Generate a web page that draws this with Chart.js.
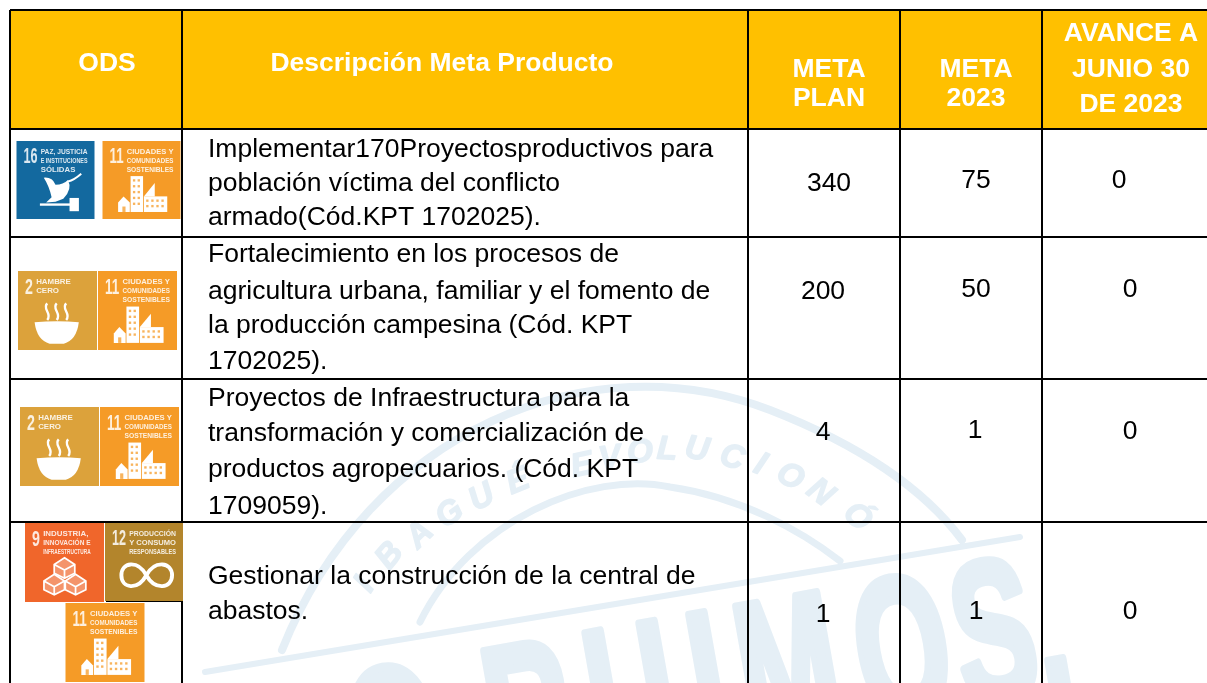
<!DOCTYPE html>
<html lang="es">
<head>
<meta charset="utf-8">
<title>Metas producto ODS</title>
<script src="https://cdn.jsdelivr.net/npm/chart.js@4"></script>
<style>
  html, body { margin: 0; padding: 0; background: #fff; overflow: hidden; }
  canvas { display: block; }
</style>
</head>
<body>
<canvas id="tableChart" width="1207" height="683"></canvas>
<script>
// table content
const headers = [['ODS'], ['Descripción Meta Producto'], ['META', 'PLAN'], ['META', '2023'], ['AVANCE A', 'JUNIO 30', 'DE 2023']];
const odsGoals = [[16, 11], [2, 11], [2, 11], [9, 12, 11]];
const descriptions = [
  ['Implementar170Proyectosproductivos para', 'población víctima del conflicto', 'armado(Cód.KPT 1702025).'],
  ['Fortalecimiento en los procesos de', 'agricultura urbana, familiar y el fomento de', 'la producción campesina (Cód. KPT', '1702025).'],
  ['Proyectos de Infraestructura para la', 'transformación y comercialización de', 'productos agropecuarios. (Cód. KPT', '1709059).'],
  ['Gestionar la construcción de la central de', 'abastos.']
];
const metaPlan = [340, 200, 4, 1];
const meta2023 = [75, 50, 1, 1];
const avance = [0, 0, 0, 0];

// layout, in canvas pixels (the scales below map 1:1)
const colEdges = [10, 182, 748, 900, 1042];
const rowEdges = [10, 129, 237, 379, 522];
const headerX = [107, 442, 829, 976, 1131];
const headerY = [[62], [62], [68, 97], [68, 97], [32, 68, 103]];
const descX = 208;
const descY = [[148, 182, 216], [253, 290, 324, 360], [397, 432, 468, 505], [575, 610]];
const planX = [829, 823, 823, 823], planY = [182, 290, 431, 613];
const yearX = [976, 976, 975, 976], yearY = [179, 288, 429, 610];
const avanceX = [1119, 1130, 1130, 1130], avanceY = [179, 288, 430, 610];
const tilePos = [
  [[16.5, 141, 78], [102.5, 141, 78]],
  [[18, 271, 79], [98, 271, 79]],
  [[20, 407, 79], [100, 407, 79]],
  [[25, 523, 79], [105, 523, 78], [65.5, 603, 79]]
];

const FONT = '"Liberation Sans", Arial, sans-serif';
const WATER = '#e5eff6';
const TEXT_NUDGE = 2;

const tileInfo = {
  16: { color: '#13699f', lines: ['PAZ, JUSTICIA', 'E INSTITUCIONES', 'SÓLIDAS'] },
  11: { color: '#f59b27', lines: ['CIUDADES Y', 'COMUNIDADES', 'SOSTENIBLES'] },
  2: { color: '#dca23b', lines: ['HAMBRE', 'CERO'] },
  9: { color: '#f0662b', lines: ['INDUSTRIA,', 'INNOVACIÓN E', 'INFRAESTRUCTURA'] },
  12: { color: '#b3852c', lines: ['PRODUCCIÓN', 'Y CONSUMO', 'RESPONSABLES'] }
};

function drawBuildings(ctx) {
  ctx.fillStyle = '#fff';
  ctx.fillRect(0.36, 0.45, 0.16, 0.46);
  ctx.fillRect(0.53, 0.71, 0.3, 0.2);
  ctx.beginPath(); ctx.moveTo(0.53, 0.71); ctx.lineTo(0.67, 0.54); ctx.lineTo(0.67, 0.71); ctx.fill();
  ctx.beginPath(); ctx.moveTo(0.2, 0.79); ctx.lineTo(0.27, 0.71); ctx.lineTo(0.35, 0.79); ctx.lineTo(0.35, 0.91); ctx.lineTo(0.2, 0.91); ctx.fill();
  ctx.fillStyle = 'rgba(245,155,39,0.75)';
  for (let r = 0; r < 5; r++) {
    for (let c = 0; c < 2; c++) ctx.fillRect(0.39 + c * 0.06, 0.49 + r * 0.075, 0.03, 0.03);
  }
  for (let r = 0; r < 2; r++) {
    for (let c = 0; c < 4; c++) ctx.fillRect(0.56 + c * 0.065, 0.75 + r * 0.07, 0.03, 0.03);
  }
  ctx.fillRect(0.255, 0.84, 0.04, 0.07);
}

function drawBowl(ctx) {
  ctx.fillStyle = '#fff';
  ctx.beginPath();
  ctx.moveTo(0.21, 0.65);
  ctx.quadraticCurveTo(0.5, 0.62, 0.77, 0.65);
  ctx.quadraticCurveTo(0.74, 0.88, 0.58, 0.92);
  ctx.lineTo(0.4, 0.92);
  ctx.quadraticCurveTo(0.24, 0.88, 0.21, 0.65);
  ctx.fill();
  ctx.strokeStyle = '#fff';
  ctx.lineWidth = 0.03;
  [0.37, 0.49, 0.61].forEach(x => {
    ctx.beginPath();
    ctx.moveTo(x, 0.41);
    ctx.bezierCurveTo(x - 0.07, 0.48, x + 0.07, 0.54, x, 0.62);
    ctx.stroke();
  });
}

function drawDove(ctx) {
  ctx.fillStyle = '#fff';
  ctx.beginPath();
  ctx.moveTo(0.35, 0.47);
  ctx.quadraticCurveTo(0.46, 0.46, 0.5, 0.56);
  ctx.quadraticCurveTo(0.6, 0.56, 0.66, 0.5);
  ctx.quadraticCurveTo(0.72, 0.62, 0.6, 0.74);
  ctx.lineTo(0.5, 0.78);
  ctx.lineTo(0.38, 0.79);
  ctx.lineTo(0.45, 0.72);
  ctx.quadraticCurveTo(0.42, 0.58, 0.35, 0.47);
  ctx.fill();
  ctx.fillRect(0.3, 0.8, 0.4, 0.03);
  ctx.fillRect(0.68, 0.73, 0.12, 0.17);
  ctx.strokeStyle = '#fff';
  ctx.lineWidth = 0.025;
  ctx.beginPath(); ctx.moveTo(0.66, 0.52); ctx.quadraticCurveTo(0.74, 0.5, 0.83, 0.42); ctx.stroke();
}

function drawCubes(ctx) {
  ctx.strokeStyle = '#fff';
  ctx.fillStyle = 'rgba(255,255,255,0.3)';
  ctx.lineWidth = 0.022;
  [[0.5, 0.57], [0.37, 0.78], [0.64, 0.78]].forEach(([x, y]) => {
    const w = 0.13;
    ctx.beginPath();
    ctx.moveTo(x, y - w);
    ctx.lineTo(x + w, y - w * 0.35);
    ctx.lineTo(x + w, y + w * 0.5);
    ctx.lineTo(x, y + w);
    ctx.lineTo(x - w, y + w * 0.5);
    ctx.lineTo(x - w, y - w * 0.35);
    ctx.closePath();
    ctx.fill();
    ctx.moveTo(x - w, y - w * 0.35);
    ctx.lineTo(x, y + w * 0.2);
    ctx.lineTo(x + w, y - w * 0.35);
    ctx.moveTo(x, y + w * 0.2);
    ctx.lineTo(x, y + w);
    ctx.stroke();
  });
}

function drawInfinity(ctx) {
  ctx.strokeStyle = '#fff';
  ctx.lineWidth = 0.05;
  ctx.beginPath();
  ctx.moveTo(0.53, 0.67);
  ctx.bezierCurveTo(0.42, 0.47, 0.21, 0.5, 0.21, 0.67);
  ctx.bezierCurveTo(0.21, 0.84, 0.42, 0.87, 0.53, 0.67);
  ctx.bezierCurveTo(0.64, 0.47, 0.86, 0.5, 0.86, 0.67);
  ctx.bezierCurveTo(0.86, 0.84, 0.64, 0.87, 0.53, 0.67);
  ctx.stroke();
}

const tileGlyph = { 16: drawDove, 11: drawBuildings, 2: drawBowl, 9: drawCubes, 12: drawInfinity };

function drawTile(ctx, goal, x, y, size) {
  const info = tileInfo[goal];
  ctx.save();
  ctx.fillStyle = info.color;
  ctx.fillRect(x, y, size, size);
  ctx.filter = 'blur(0.6px)';
  ctx.fillStyle = 'rgba(255,255,255,0.85)';
  ctx.textBaseline = 'top';
  ctx.textAlign = 'left';
  const numWidth = String(goal).length > 1 ? 0.18 : 0.1;
  ctx.font = 'bold ' + size * 0.28 + 'px ' + FONT;
  ctx.fillText(goal, x + size * 0.09, y + size * 0.07, size * numWidth);
  ctx.font = 'bold ' + size * 0.1 + 'px ' + FONT;
  const tx = x + size * (0.13 + numWidth);
  info.lines.forEach((line, i) => {
    ctx.fillText(line, tx, y + size * (0.09 + i * 0.115), size * 0.6);
  });
  ctx.translate(x, y);
  ctx.scale(size, size);
  tileGlyph[goal](ctx);
  ctx.restore();
}

// pale logo behind the table, drawn before the grid
function drawWatermark(ctx) {
  ctx.save();
  ctx.strokeStyle = WATER;
  ctx.lineCap = 'round';
  ctx.lineJoin = 'round';

  ctx.lineWidth = 6;
  ctx.beginPath(); ctx.moveTo(205, 672); ctx.lineTo(1020, 537); ctx.stroke();

  ctx.lineWidth = 8;
  ctx.beginPath();
  ctx.moveTo(282, 650);
  ctx.bezierCurveTo(370, 430, 590, 340, 770, 410);
  ctx.bezierCurveTo(860, 445, 925, 490, 962, 540);
  ctx.stroke();

  ctx.lineWidth = 7;
  ctx.beginPath();
  ctx.moveTo(420, 622);
  ctx.bezierCurveTo(470, 520, 590, 470, 670, 487);
  ctx.bezierCurveTo(740, 497, 800, 530, 840, 561);
  ctx.stroke();

  ctx.fillStyle = WATER;
  ctx.textAlign = 'center';
  ctx.textBaseline = 'middle';
  ctx.font = 'italic bold 33px ' + FONT;
  ctx.lineWidth = 1.5;
  const arcLetters = [
    ['I', 365, 585, -58], ['B', 390, 556, -50], ['A', 420, 535, -44], ['G', 450, 514, -36],
    ['U', 482, 498, -28], ['É', 518, 482, -22], ['E', 582, 466, -12], ['V', 610, 459, -8],
    ['O', 640, 453, -2], ['L', 667, 450, 3], ['U', 697, 450, 9], ['C', 732, 458, 16],
    ['I', 760, 465, 23], ['O', 790, 477, 30], ['N', 820, 493, 37], ['Ó', 857, 517, 44]
  ];
  arcLetters.forEach(([ch, x, y, deg]) => {
    ctx.save();
    ctx.translate(x, y);
    ctx.rotate(deg * Math.PI / 180);
    ctx.fillText(ch, 0, 0);
    ctx.strokeText(ch, 0, 0);
    ctx.restore();
  });

  // large slanted word, letters spaced by hand
  ctx.textAlign = 'left';
  ctx.textBaseline = 'alphabetic';
  ctx.font = 'bold 200px ' + FONT;
  ctx.lineWidth = 9;
  const bigLetters = [['O', 345], ['R', 483], ['U', 585], ['I', 688], ['M', 735], ['O', 852], ['S', 950], [',', 1028]];
  bigLetters.forEach(([ch, left]) => {
    const bx = left + 24 - 8;
    const by = 686 + (1080 - bx) * Math.tan(10 * Math.PI / 180);
    ctx.save();
    ctx.translate(bx, by);
    ctx.rotate(-10 * Math.PI / 180);
    ctx.scale(0.6, 1);
    ctx.fillText(ch, 0, 0);
    ctx.strokeText(ch, 0, 0);
    ctx.restore();
  });
  ctx.restore();
}

const tablePlugin = {
  id: 'tablePlugin',
  beforeDraw(chart) {
    const { ctx, scales: { x, y } } = chart;
    ctx.save();
    ctx.fillStyle = '#fff';
    ctx.fillRect(0, 0, chart.width, chart.height);
    drawWatermark(ctx);
    ctx.fillStyle = '#ffc000';
    ctx.fillRect(x.getPixelForValue(10), y.getPixelForValue(10), chart.width, y.getPixelForValue(rowEdges[1]) - y.getPixelForValue(10));
    ctx.restore();
  },
  afterDatasetsDraw(chart) {
    const { ctx, scales: { x, y } } = chart;
    ctx.save();
    ctx.textBaseline = 'middle';

    ctx.fillStyle = '#fff';
    ctx.textAlign = 'center';
    ctx.font = 'bold 26.5px ' + FONT;
    headers.forEach((lines, c) => {
      lines.forEach((line, i) => ctx.fillText(line, x.getPixelForValue(headerX[c]), y.getPixelForValue(headerY[c][i]) + TEXT_NUDGE));
    });

    ctx.fillStyle = '#000';
    ctx.textAlign = 'left';
    ctx.font = '26.5px ' + FONT;
    descriptions.forEach((lines, r) => {
      lines.forEach((line, i) => ctx.fillText(line, x.getPixelForValue(descX), y.getPixelForValue(descY[r][i]) + TEXT_NUDGE));
    });

    // numeric cells read their positions from the dataset points
    ctx.textAlign = 'center';
    chart.data.datasets.forEach((ds, d) => {
      chart.getDatasetMeta(d).data.forEach((pt, i) => ctx.fillText(ds.values[i], pt.x, pt.y + TEXT_NUDGE));
    });

    odsGoals.forEach((goals, r) => {
      goals.forEach((goal, i) => {
        const [tx, ty, size] = tilePos[r][i];
        drawTile(ctx, goal, x.getPixelForValue(tx), y.getPixelForValue(ty), size);
      });
    });
    // thin rule left under the goal 12 tile
    ctx.fillStyle = '#000';
    ctx.fillRect(106, 601, 76, 1);
    ctx.restore();
  }
};

function cellDataset(label, values, xs, ys) {
  return {
    label: label,
    values: values,
    data: values.map((_, i) => ({ x: xs[i], y: ys[i] })),
    pointRadius: 0,
    showLine: false
  };
}

new Chart(document.getElementById('tableChart').getContext('2d'), {
  type: 'scatter',
  data: {
    datasets: [
      cellDataset('META PLAN', metaPlan, planX, planY),
      cellDataset('META 2023', meta2023, yearX, yearY),
      cellDataset('AVANCE A JUNIO 30 DE 2023', avance, avanceX, avanceY)
    ]
  },
  options: {
    responsive: false,
    animation: false,
    layout: { padding: { left: 10, top: 10 } },
    plugins: { legend: { display: false }, tooltip: { enabled: false } },
    scales: {
      x: {
        type: 'linear',
        min: 10,
        max: 1207,
        afterBuildTicks: scale => { scale.ticks = colEdges.map(value => ({ value })); },
        grid: { color: '#000', lineWidth: 2, drawTicks: false },
        border: { display: false },
        ticks: { display: false }
      },
      y: {
        type: 'linear',
        reverse: true,
        min: 10,
        max: 683,
        afterBuildTicks: scale => { scale.ticks = rowEdges.map(value => ({ value })); },
        grid: { color: '#000', lineWidth: 2, drawTicks: false },
        border: { display: false },
        ticks: { display: false }
      }
    }
  },
  plugins: [tablePlugin]
});
</script>
</body>
</html>
